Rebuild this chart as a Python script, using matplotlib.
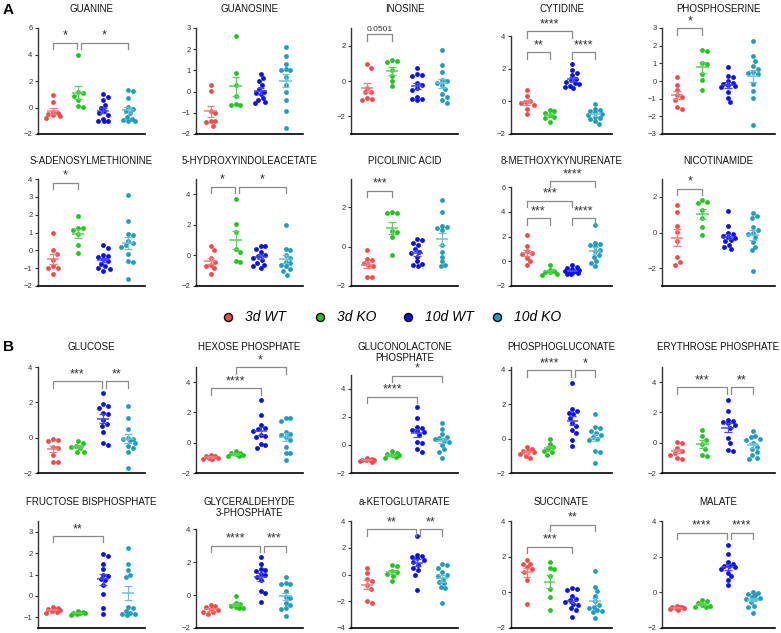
import numpy as np
import matplotlib.pyplot as plt
from matplotlib.lines import Line2D

plt.rcParams['font.family'] = ['Liberation Sans', 'DejaVu Sans']

groups = ['3d WT', '3d KO', '10d WT', '10d KO']
dot_colors = ['#f24a4c', '#22c41e', '#0a10e8', '#1f9cc0']
bar_colors = ['#f47c7c', '#55d455', '#4646f2', '#6cc0d8']

# ---- A ----
guanine = [[0.95, 0.4, -0.35, -0.45, -0.5, -0.6, -0.65, -0.8],
           [4.0, 1.15, 1.1, 0.9, 0.6, 0.1, 0.05],
           [1.0, 0.8, 0.55, 0.2, 0.0, -0.3, -0.45, -0.6, -0.9, -1.0, -1.05, -1.05],
           [1.3, 1.25, 0.7, 0.05, -0.1, -0.3, -0.45, -0.7, -0.9, -0.95, -1.0, -1.05]]
guanosine = [[0.3, 0.05, -0.9, -1.0, -1.4, -1.4, -1.45, -1.6],
             [2.6, 0.9, 0.3, -0.2, -0.6, -0.65, -0.65],
             [0.85, 0.65, 0.5, 0.3, 0.1, 0.0, -0.05, -0.1, -0.3, -0.4, -0.55, -0.5],
             [2.1, 1.7, 1.3, 1.05, 1.0, 1.0, 0.7, 0.3, 0.0, -0.4, -0.9, -1.7]]
inosine = [[0.95, 0.75, -0.4, -0.6, -0.65, -0.95, -1.05, -1.0],
           [1.2, 1.15, 1.1, 0.6, 0.3, 0.0, -0.3],
           [0.75, 0.4, 0.35, 0.3, -0.1, -0.25, -0.4, -0.5, -0.9, -1.0, -1.05, -1.0],
           [1.75, 0.9, 0.5, 0.05, 0.0, -0.1, -0.25, -0.45, -0.75, -0.9, -1.1, -1.25]]
cytidine = [[0.7, 0.3, 0.05, -0.05, -0.1, -0.2, -0.45, -0.75],
            [-0.55, -0.6, -0.7, -0.85, -0.95, -1.0, -1.25],
            [2.3, 1.9, 1.75, 1.6, 1.4, 1.3, 1.2, 1.1, 1.05, 0.95, 0.9, 0.85],
            [-0.15, -0.45, -0.55, -0.6, -0.65, -0.75, -0.85, -0.95, -1.0, -1.1, -1.2, -1.4]]
phosphoserine = [[0.25, -0.2, -0.5, -0.8, -0.9, -1.05, -1.45, -1.6],
                 [1.75, 1.7, 1.0, 0.95, 0.4, 0.05, -0.5],
                 [0.8, 0.3, 0.25, 0.0, -0.1, -0.15, -0.25, -0.3, -0.35, -0.65, -0.95, -1.2],
                 [2.25, 1.4, 1.15, 0.85, 0.7, 0.5, 0.45, 0.4, -0.15, -0.55, -0.95, -2.5]]
sam = [[1.0, 0.0, -0.2, -0.55, -0.9, -1.0, -1.0, -1.35],
       [1.9, 1.25, 1.25, 1.15, 0.9, 0.3, -0.15],
       [0.3, 0.15, -0.25, -0.3, -0.4, -0.5, -0.6, -0.75, -0.9, -1.0, -1.05, -1.15],
       [3.1, 1.65, 0.9, 0.85, 0.55, 0.4, 0.3, 0.2, -0.2, -0.6, -0.65, -1.6]]
hiaa = [[0.6, 0.35, -0.2, -0.4, -0.6, -0.7, -0.85, -1.2],
        [3.7, 2.05, 1.5, 0.4, 0.2, -0.35, -0.4],
        [0.6, 0.6, 0.45, 0.25, 0.05, -0.05, -0.15, -0.3, -0.5, -0.6, -0.7, -0.85],
        [2.0, 0.45, 0.35, 0.05, -0.15, -0.4, -0.5, -0.6, -0.7, -0.9, -1.0, -1.25]]
picolinic = [[-0.15, -0.65, -0.7, -0.85, -0.95, -1.0, -1.55, -1.55],
             [1.75, 1.7, 1.7, 0.8, 0.75, 0.5, -0.4],
             [0.4, 0.35, 0.2, 0.1, -0.1, -0.25, -0.3, -0.5, -0.75, -0.9, -0.95, -1.0],
             [2.4, 1.75, 1.05, 1.0, 0.95, 0.85, 0.1, -0.25, -0.5, -0.75, -0.95, -1.0]]
methoxy = [[2.15, 1.2, 0.8, 0.65, 0.55, 0.3, 0.0, -0.3],
           [-0.3, -0.7, -0.8, -0.85, -0.9, -1.0, -1.15],
           [-0.3, -0.45, -0.55, -0.65, -0.7, -0.75, -0.8, -0.85, -0.9, -0.95, -1.0, -1.05],
           [2.9, 1.5, 1.4, 1.3, 1.2, 0.95, 0.8, 0.5, 0.35, 0.0, -0.1, -0.4]]
nicotinamide = [[1.55, 1.15, 0.35, 0.05, -0.5, -1.4, -1.65, -1.8],
                [1.8, 1.7, 1.65, 1.25, 0.8, 0.3, -0.15],
                [1.2, 0.35, -0.05, -0.1, -0.2, -0.25, -0.3, -0.4, -0.5, -0.7, -0.8, -0.95],
                [1.1, 0.9, 0.8, 0.3, 0.15, 0.0, -0.1, -0.25, -0.55, -0.8, -1.0, -2.15]]

# ---- B ----
glucose = [[-0.1, -0.15, -0.2, -0.5, -0.6, -1.0, -1.35, -1.35],
           [-0.2, -0.3, -0.45, -0.5, -0.6, -0.8, -0.8],
           [2.55, 1.9, 1.8, 1.7, 1.4, 1.35, 1.0, 0.8, 0.65, 0.3, -0.3, -0.4],
           [1.8, 1.1, 0.5, 0.0, -0.05, -0.1, -0.15, -0.3, -0.45, -0.6, -0.8, -1.7]]
hexose_p = [[-0.8, -0.85, -0.9, -0.95, -1.0, -1.0, -1.05, -1.1],
            [-0.55, -0.65, -0.7, -0.75, -0.8, -0.85, -0.9],
            [2.85, 1.8, 1.2, 1.0, 0.9, 0.8, 0.5, 0.45, 0.4, -0.1, -0.15, -0.35],
            [1.65, 1.6, 1.45, 0.7, 0.6, 0.5, 0.35, 0.2, -0.25, -0.65, -0.65, -1.15]]
gluconolactone_p = [[-0.95, -1.0, -1.05, -1.05, -1.1, -1.1, -1.15, -1.2],
                    [-0.45, -0.55, -0.65, -0.7, -0.75, -0.85, -0.95],
                    [2.7, 1.95, 1.25, 1.2, 1.1, 1.0, 0.9, 0.7, 0.2, 0.15, -0.3, -0.5],
                    [1.6, 1.15, 0.8, 0.6, 0.5, 0.4, 0.3, 0.2, 0.0, -0.3, -0.5, -0.9]]
phosphogluconate = [[-0.5, -0.6, -0.7, -0.75, -0.8, -0.9, -1.0, -1.15],
                    [0.0, -0.3, -0.5, -0.6, -0.7, -0.8, -0.95],
                    [3.2, 1.7, 1.6, 1.5, 1.4, 1.2, 0.9, 0.7, 0.5, 0.3, -0.1, -0.45],
                    [1.45, 0.65, 0.6, 0.45, 0.3, 0.2, 0.1, 0.0, -0.1, -0.75, -0.8, -1.4]]
erythrose_p = [[0.05, 0.0, -0.35, -0.55, -0.65, -0.8, -1.0, -1.1],
               [0.85, 0.45, 0.2, -0.1, -0.4, -0.8, -0.85],
               [2.8, 2.1, 1.5, 1.45, 1.4, 1.3, 1.2, 1.0, 0.3, 0.0, -0.45, -0.55],
               [0.75, 0.45, 0.35, 0.25, 0.15, 0.0, -0.25, -0.4, -0.6, -0.8, -1.0, -1.1]]
fructose_bp = [[-0.5, -0.55, -0.6, -0.6, -0.65, -0.7, -0.75, -0.8],
               [-0.72, -0.75, -0.78, -0.8, -0.82, -0.85, -0.88],
               [1.95, 1.85, 1.5, 1.25, 1.0, 0.95, 0.8, 0.75, 0.5, 0.1, -0.55, -0.85],
               [2.25, 1.5, 1.2, 1.0, 0.9, -0.5, -0.55, -0.7, -0.8, -0.85, -0.85, -0.9]]
g3p = [[-0.6, -0.65, -0.75, -0.85, -0.9, -1.0, -1.05, -1.15],
       [-0.05, -0.5, -0.55, -0.65, -0.75, -0.8, -0.8],
       [2.3, 1.9, 1.6, 1.5, 1.45, 1.3, 1.2, 1.1, 0.9, 0.25, 0.15, -0.4],
       [1.1, 0.75, 0.7, 0.65, 0.25, -0.1, -0.2, -0.5, -0.6, -0.8, -0.85, -1.3]]
akg = [[0.5, 0.1, -0.3, -0.45, -0.8, -1.1, -1.95, -2.15],
       [0.7, 0.6, 0.25, 0.2, 0.05, -0.1, -0.45],
       [2.85, 1.45, 1.4, 1.3, 1.2, 1.1, 0.9, 0.7, 0.5, 0.3, 0.0, -1.15],
       [0.75, 0.7, 0.45, 0.2, 0.0, -0.1, -0.3, -0.55, -0.65, -0.9, -1.0, -2.1]]
succinate = [[1.8, 1.6, 1.6, 1.4, 1.3, 1.15, 0.7, -0.65],
             [1.7, 1.35, 1.3, 0.9, 0.2, -0.25, -1.0],
             [0.25, 0.2, 0.15, -0.2, -0.4, -0.45, -0.55, -0.65, -0.7, -0.9, -1.0, -1.4],
             [1.2, 0.3, 0.05, -0.2, -0.5, -0.7, -0.8, -0.9, -1.0, -1.05, -1.1, -1.45]]
malate = [[-0.75, -0.8, -0.85, -0.85, -0.9, -0.9, -0.95, -1.0],
          [-0.45, -0.5, -0.6, -0.7, -0.75, -0.8, -0.85],
          [2.65, 2.15, 1.7, 1.6, 1.5, 1.45, 1.4, 1.3, 1.1, 0.9, 0.7, 0.4],
          [0.0, -0.05, -0.1, -0.15, -0.25, -0.3, -0.35, -0.4, -0.55, -0.75, -0.8, -1.15]]

# title, data, ylim, yticks, spine top, brackets (group i, group j, height, label)
panels = [
    ('GUANINE', guanine, (-2, 6), [-2, 0, 2, 4, 6], None, [(0, 1, 4.9, '*'), (1, 3, 4.9, '*')]),
    ('GUANOSINE', guanosine, (-2, 3), [-2, -1, 0, 1, 2, 3], None, []),
    ('INOSINE', inosine, (-3, 3), [-2, 0, 2], None, [(0, 1, 2.64, '0.0501')]),
    ('CYTIDINE', cytidine, (-2, 4.5), [-2, 0, 2, 4], 4,
     [(0, 1, 3.0, '**'), (2, 3, 3.0, '****'), (0, 2, 4.3, '****')]),
    ('PHOSPHOSERINE', phosphoserine, (-3, 3), [-3, -2, -1, 0, 1, 2, 3], None, [(0, 1, 3.0, '*')]),
    ('S-ADENOSYLMETHIONINE', sam, (-2, 4), [-2, -1, 0, 1, 2, 3, 4], None, [(0, 1, 3.8, '*')]),
    ('5-HYDROXYINDOLEACETATE', hiaa, (-2, 5), [-2, 0, 2, 4], None, [(0, 1, 4.5, '*'), (1, 3, 4.5, '*')]),
    ('PICOLINIC ACID', picolinic, (-2, 3.45), [-2, 0, 2], None, [(0, 1, 2.86, '***')]),
    ('8-METHOXYKYNURENATE', methoxy, (-2, 6.66), [-2, 0, 2, 4, 6], 6,
     [(0, 1, 3.5, '***'), (2, 3, 3.5, '****'), (0, 2, 4.9, '***'), (1, 3, 6.5, '****')]),
    ('NICOTINAMIDE', nicotinamide, (-3, 3), [-2, 0, 2], None, [(0, 1, 2.45, '*')]),
    ('GLUCOSE', glucose, (-2, 4), [-2, 0, 2, 4], None, [(0, 2, 3.2, '***'), (2, 3, 3.2, '**')]),
    ('HEXOSE PHOSPHATE', hexose_p, (-2, 5), [-2, 0, 2, 4], None, [(0, 2, 3.6, '****'), (1, 3, 5.0, '*')]),
    ('GLUCONOLACTONE\nPHOSPHATE', gluconolactone_p, (-2, 5.57), [-2, 0, 2, 4], 5,
     [(0, 2, 3.45, '****'), (1, 3, 4.95, '*')]),
    ('PHOSPHOGLUCONATE', phosphogluconate, (-2, 4.15), [-2, 0, 2, 4], None,
     [(0, 2, 3.95, '****'), (2, 3, 3.95, '*')]),
    ('ERYTHROSE PHOSPHATE', erythrose_p, (-2, 5), [-2, 0, 2, 4], None, [(0, 2, 3.65, '***'), (2, 3, 3.65, '**')]),
    ('FRUCTOSE BISPHOSPHATE', fructose_bp, (-1.5, 3.5), [-1, 0, 1, 2, 3], None, [(0, 2, 2.8, '**')]),
    ('GLYCERALDEHYDE\n3-PHOSPHATE', g3p, (-2, 4.5), [-2, 0, 2, 4], 4, [(0, 2, 3.0, '****'), (2, 3, 3.0, '***')]),
    ('a-KETOGLUTARATE', akg, (-4, 4), [-4, -2, 0, 2, 4], None, [(0, 2, 3.4, '**'), (2, 3, 3.4, '**')]),
    ('SUCCINATE', succinate, (-2, 4), [-2, 0, 2, 4], None, [(0, 2, 2.55, '***'), (1, 3, 3.8, '**')]),
    ('MALATE', malate, (-2, 4), [-2, 0, 2, 4], None, [(0, 2, 3.35, '****'), (2, 3, 3.35, '****')]),
]

W, H = 781, 633
cols_px = [(38, 145), (196, 303), (351, 458), (511, 612), (662, 775)]
xlims = [(-0.6, 3.68), (-0.58, 3.7), (-0.65, 3.65), (-0.7, 3.75), (-0.6, 3.87)]
rows_px = [(28, 134), (179, 286), (367, 473), (521, 628)]
title_top = [4, 156, 342, 497]


def swarm_offsets(vals, ppu_x, ppu_y, d=4.8, maxw=8.0):
    # beeswarm in pixel space, capped width (points may overlap like GraphPad)
    vals = np.asarray(vals, float)
    ypx = vals * ppu_y
    steps = np.arange(0, maxw + 0.01, d * 0.25)
    cands = sorted(set(list(steps) + list(-steps)), key=lambda c: (abs(c), -c))
    placed = []
    out = np.zeros(len(vals))
    for i in np.argsort(-vals):
        best, best_d = 0.0, -1
        for c in cands:
            md = min([np.hypot(c - px, ypx[i] - py) for px, py in placed] or [99])
            if md >= d:
                best = c
                break
            if md > best_d + 0.3:
                best, best_d = c, md
        placed.append((best, ypx[i]))
        out[i] = best / ppu_x
    return out


fig = plt.figure(figsize=(W / 100, H / 100), dpi=100)

for k, (title, data, ylim, yticks, spine_top, brackets) in enumerate(panels):
    r, c = divmod(k, 5)
    x0, x1 = cols_px[c]
    y0, y1 = rows_px[r]
    ax = fig.add_axes([x0 / W, 1 - y1 / H, (x1 - x0) / W, (y1 - y0) / H])
    xlim = xlims[c]
    ax.set_xlim(*xlim)
    ax.set_ylim(*ylim)
    ppu_x = (x1 - x0) / (xlim[1] - xlim[0])
    ppu_y = (y1 - y0) / (ylim[1] - ylim[0])

    for g, vals in enumerate(data):
        vals = np.asarray(vals, float)
        off = swarm_offsets(vals, ppu_x, ppu_y)
        ax.scatter(g + off, vals, s=12, color=dot_colors[g], lw=0, zorder=2, clip_on=False)
        m = vals.mean()
        se = vals.std(ddof=1) / np.sqrt(len(vals))
        ax.hlines(m, g - 0.25, g + 0.25, color=bar_colors[g], lw=1.1, zorder=3)
        ax.vlines(g, m - se, m + se, color=bar_colors[g], lw=0.9, zorder=3)
        ax.hlines([m - se, m + se], g - 0.15, g + 0.15, color=bar_colors[g], lw=0.9, zorder=3)

    leg = 6.5 / ppu_y
    for (i, j, yb, lab) in brackets:
        xa, xb = i, j
        for (i2, j2, yb2, _) in brackets:
            if abs(yb2 - yb) < 0.05:
                if j2 == i and i2 != i:
                    xa = i + 0.12
                if i2 == j and j2 != j:
                    xb = j - 0.04
        ax.plot([xa, xa, xb, xb], [yb - leg, yb, yb, yb - leg], color='#8a8a8a', lw=0.9,
                clip_on=False, zorder=4)
        fs = 6 if lab[0].isdigit() else 9
        ax.text((xa + xb) / 2, yb + 1.0 / ppu_y, lab, ha='center', va='bottom', fontsize=fs,
                color='#333333', clip_on=False)

    for s in ['top', 'right']:
        ax.spines[s].set_visible(False)
    ax.spines['left'].set_linewidth(1.0)
    ax.spines['left'].set_color('#333333')
    ax.spines['bottom'].set_linewidth(1.2)
    if spine_top is not None:
        ax.spines['left'].set_bounds(ylim[0], spine_top)
    ax.set_xticks([])
    ax.set_yticks(yticks)
    ax.tick_params(axis='y', length=2.5, width=0.8, labelsize=5.5, pad=1.5, colors='#333333')

    fig.text((x0 + x1) / 2 / W, 1 - title_top[r] / H, title, ha='center', va='top',
             fontsize=7, linespacing=1.1, color='#111111')

fig.text(3 / W, 1 - 3 / H, 'A', fontsize=11, fontweight='bold', ha='left', va='top')
fig.text(3 / W, 1 - 340 / H, 'B', fontsize=11, fontweight='bold', ha='left', va='top')

# legend row
leg_x = [228, 320, 408, 497]
for g, name in enumerate(groups):
    fig.add_artist(Line2D([leg_x[g] / W], [1 - 317 / H], marker='o', markersize=5.8,
                          markerfacecolor=dot_colors[g], markeredgecolor='black',
                          markeredgewidth=1.0, linestyle='none', transform=fig.transFigure))
    fig.text((leg_x[g] + 17) / W, 1 - 317 / H, name, fontsize=10, style='italic',
             ha='left', va='center')

fig.savefig('out.png', dpi=100)
